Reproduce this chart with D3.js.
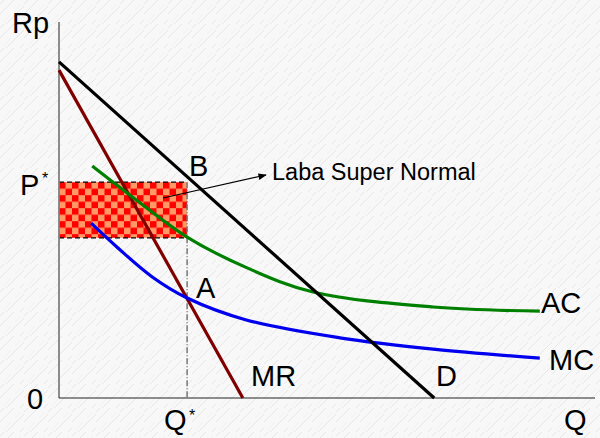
<!DOCTYPE html>
<html><head><meta charset="utf-8">
<script src="https://cdn.jsdelivr.net/npm/d3@7"></script>
<style>html,body{margin:0;padding:0;background:#fff;}svg{display:block;font-family:"Liberation Sans",Arial,sans-serif;}</style>
</head><body>
<svg id="c" width="600" height="438"></svg>
<script>
// Data (Q in units 0..100, Rp in units 0..100)
const demandLine = [{q:0,p:89.4},{q:70,p:0}];
const mrLine = [{q:0,p:87.2},{q:34.3,p:0}];
const acCurve = [{q:6.2,p:61.7},{q:13.2,p:54.0},{q:23.9,p:42.8},{q:35.1,p:34.6},{q:47.4,p:28.2},{q:69.8,p:24.2},{q:89.7,p:23.1}];
const mcCurve = [{q:6.0,p:46.5},{q:11.0,p:39.9},{q:17.4,p:32.2},{q:23.9,p:26.6},{q:35.1,p:20.7},{q:52.4,p:16.0},{q:69.8,p:13.0},{q:89.7,p:10.6}];
const qStar = 23.9, pStar = 57.4, acAtQ = 42.6;

const svg = d3.select("#c");
const x = d3.scaleLinear().domain([0,100]).range([59,595]);
const y = d3.scaleLinear().domain([0,100]).range([398,22]);

const defs = svg.append("defs");
// background texture
const bg = defs.append("pattern").attr("id","bgtex").attr("patternUnits","userSpaceOnUse").attr("width",24).attr("height",24);
bg.append("rect").attr("width",24).attr("height",24).attr("fill","#f8f8f8");
bg.append("path").attr("d","M0,14 L14,0 M6,24 L24,6 M-2,6 L6,-2 M18,26 L26,18").attr("stroke","#e6e6e6").attr("stroke-width",1);
bg.append("path").attr("d","M3,22 L11,14 M15,10 L21,4").attr("stroke","#eeeeee").attr("stroke-width",0.8);
svg.append("rect").attr("width",600).attr("height",438).attr("fill","url(#bgtex)");

// checker
const s = 6.5;
const ck = defs.append("pattern").attr("id","checker").attr("patternUnits","userSpaceOnUse")
  .attr("width",2*s).attr("height",2*s).attr("x",x(0)).attr("y",y(pStar));
ck.append("rect").attr("width",2*s).attr("height",2*s).attr("fill","#ff9966");
ck.append("rect").attr("width",s).attr("height",s).attr("fill","#ff0000");
ck.append("rect").attr("x",s).attr("y",s).attr("width",s).attr("height",s).attr("fill","#ff0000");

// marker
defs.append("marker").attr("id","arr").attr("viewBox","0 0 10 10").attr("refX",9).attr("refY",5)
  .attr("markerWidth",7).attr("markerHeight",7).attr("orient","auto")
  .append("path").attr("d","M0,1 L10,5 L0,9 Z").attr("fill","#000");

// profit rectangle
svg.append("rect").attr("x",x(0)).attr("y",y(pStar)).attr("width",x(qStar)-x(0)).attr("height",y(acAtQ)-y(pStar)).attr("fill","url(#checker)");
svg.append("line").attr("x1",x(0)).attr("x2",x(qStar)).attr("y1",y(pStar)).attr("y2",y(pStar)).attr("stroke","#000").attr("stroke-width",1.2).attr("stroke-dasharray","5,3");
svg.append("line").attr("x1",x(0)).attr("x2",x(qStar)).attr("y1",y(acAtQ)).attr("y2",y(acAtQ)).attr("stroke","#000").attr("stroke-width",1.2).attr("stroke-dasharray","5,3");
svg.append("line").attr("x1",x(qStar)).attr("x2",x(qStar)).attr("y1",y(pStar)).attr("y2",y(0)).attr("stroke","#777").attr("stroke-width",1.5).attr("stroke-dasharray","6,2,1,2");

// axes
svg.append("line").attr("x1",x(0)).attr("x2",x(0)).attr("y1",y(0)).attr("y2",y(100)).attr("stroke","#808080").attr("stroke-width",1.8);
svg.append("line").attr("x1",x(0)).attr("x2",x(100)).attr("y1",y(0)).attr("y2",y(0)).attr("stroke","#222").attr("stroke-width",1.2);

const line = d3.line().x(d=>x(d.q)).y(d=>y(d.p));
const curve = d3.line().x(d=>x(d.q)).y(d=>y(d.p)).curve(d3.curveCatmullRom.alpha(0.5));
svg.append("path").attr("d",line(mrLine)).attr("fill","none").attr("stroke","#800000").attr("stroke-width",3.2);
svg.append("path").attr("d",curve(acCurve)).attr("fill","none").attr("stroke","#008000").attr("stroke-width",3.2);
svg.append("path").attr("d",curve(mcCurve)).attr("fill","none").attr("stroke","#0000ee").attr("stroke-width",3.2);
svg.append("path").attr("d",line(demandLine)).attr("fill","none").attr("stroke","#000").attr("stroke-width",3.2);

// arrow
svg.append("line").attr("x1",163).attr("y1",198).attr("x2",266).attr("y2",175).attr("stroke","#000").attr("stroke-width",1.2).attr("marker-end","url(#arr)");

const big = 29;
function txt(t,xx,yy,size){ return svg.append("text").attr("x",xx).attr("y",yy).attr("font-size",size||big).attr("fill","#000").text(t); }
txt("Rp",12,33);
txt("0",27,409);
txt("Q",564,430);
txt("P",20,195);
txt("*",42,184,16);
txt("Q",164,430);
txt("*",189,421,16);
txt("B",189,176);
txt("A",196,298);
txt("MR",251,386);
txt("D",436,386);
txt("AC",541,313);
txt("MC",549,370);
txt("Laba Super Normal",272,180,23.5);
</script>
</body></html>
